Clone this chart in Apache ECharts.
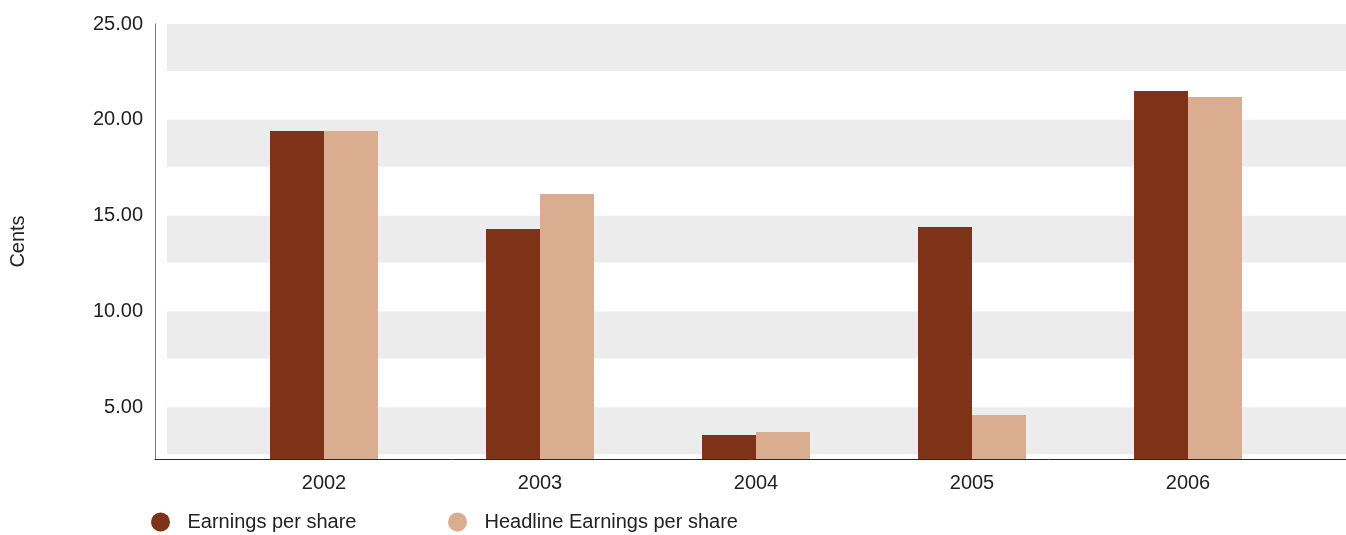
<!DOCTYPE html>
<html>
<head>
<meta charset="utf-8">
<title>Earnings per share</title>
<script src="https://cdn.jsdelivr.net/npm/echarts@6/dist/echarts.min.js"></script>
<style>
  html, body { margin: 0; padding: 0; background: #ffffff; }
  #chart { width: 1346px; height: 535px; }
</style>
</head>
<body>
<div id="chart"></div>
<script>
// Financial years on the category axis
const years = ['2002', '2003', '2004', '2005', '2006'];

// Values in cents
const earningsPerShare = [19.42, 14.30, 3.55, 14.41, 21.51];
const headlineEarningsPerShare = [19.42, 16.13, 3.71, 4.60, 21.19];

// Labelled ticks on the value axis
const yTicks = [5, 10, 15, 20, 25];

const seriesNames = ['Earnings per share', 'Headline Earnings per share'];
const colors = ['#7f3419', '#daad91'];

const Y_MIN = 2.3;
const Y_MAX = 25;
const BAND_DEPTH = 2.45;
const FONT = "'Helvetica Neue', 'Liberation Sans', Arial, sans-serif";
const TEXT = '#222222';

const gridTop = 24;
const gridBottom = 76;

// grey stripes hanging below each labelled tick
const bands = yTicks.map(v => [{ yAxis: v - BAND_DEPTH }, { yAxis: v }]);

const chart = echarts.init(document.getElementById('chart'), null, { renderer: 'canvas' });

const legendText = { fontFamily: FONT, fontSize: 20, color: TEXT, lineHeight: 19 };

chart.setOption({
  animation: false,
  backgroundColor: '#ffffff',
  textStyle: { fontFamily: FONT, color: TEXT },
  grid: [
    { left: 167, right: 0, top: gridTop, bottom: gridBottom },   // stripes
    { left: 155, right: 0, top: gridTop, bottom: gridBottom },   // axis frame
    { left: 216, right: 50, top: gridTop, bottom: gridBottom }   // bars
  ],
  legend: [
    {
      data: [seriesNames[0]], left: 146, top: 507,
      icon: 'circle', itemWidth: 44, itemHeight: 19,
      selectedMode: false, textStyle: legendText
    },
    {
      data: [seriesNames[1]], left: 443, top: 507,
      icon: 'circle', itemWidth: 44, itemHeight: 19,
      selectedMode: false, textStyle: legendText
    }
  ],
  xAxis: [
    { gridIndex: 0, type: 'value', min: 0, max: 1, show: false },
    {
      gridIndex: 1, type: 'value', min: 0, max: 1,
      axisLine: { show: true, onZero: false, lineStyle: { color: '#2a2a2a', width: 1 } },
      axisTick: { show: false }, axisLabel: { show: false }, splitLine: { show: false }
    },
    {
      gridIndex: 2, type: 'category', data: years,
      axisLine: { show: false }, axisTick: { show: false },
      axisLabel: { fontFamily: FONT, fontSize: 20, color: TEXT, margin: 14 }
    }
  ],
  yAxis: [
    { gridIndex: 0, type: 'value', min: Y_MIN, max: Y_MAX, show: false },
    {
      gridIndex: 1, type: 'value', min: Y_MIN, max: Y_MAX,
      name: 'Cents', nameLocation: 'middle', nameGap: 127, nameRotate: 90,
      nameTextStyle: { fontFamily: FONT, fontSize: 20, color: TEXT },
      axisLine: { show: true, lineStyle: { color: '#777777', width: 1 } },
      axisTick: { show: false },
      splitLine: { show: false },
      axisLabel: {
        customValues: yTicks,
        margin: 12,
        fontFamily: FONT, fontSize: 20, color: TEXT,
        formatter: v => Number(v).toFixed(2)
      }
    },
    { gridIndex: 2, type: 'value', min: Y_MIN, max: Y_MAX, show: false }
  ],
  series: [
    {
      type: 'line', xAxisIndex: 0, yAxisIndex: 0, data: [], silent: true,
      markArea: { silent: true, itemStyle: { color: '#ececec' }, data: bands }
    },
    {
      name: seriesNames[0], type: 'bar', xAxisIndex: 2, yAxisIndex: 2,
      data: earningsPerShare, barWidth: 54, barGap: '0%',
      itemStyle: { color: colors[0] }, z: 3
    },
    {
      name: seriesNames[1], type: 'bar', xAxisIndex: 2, yAxisIndex: 2,
      data: headlineEarningsPerShare, barWidth: 54, barGap: '0%',
      itemStyle: { color: colors[1] }, z: 3
    }
  ]
});
</script>
</body>
</html>
